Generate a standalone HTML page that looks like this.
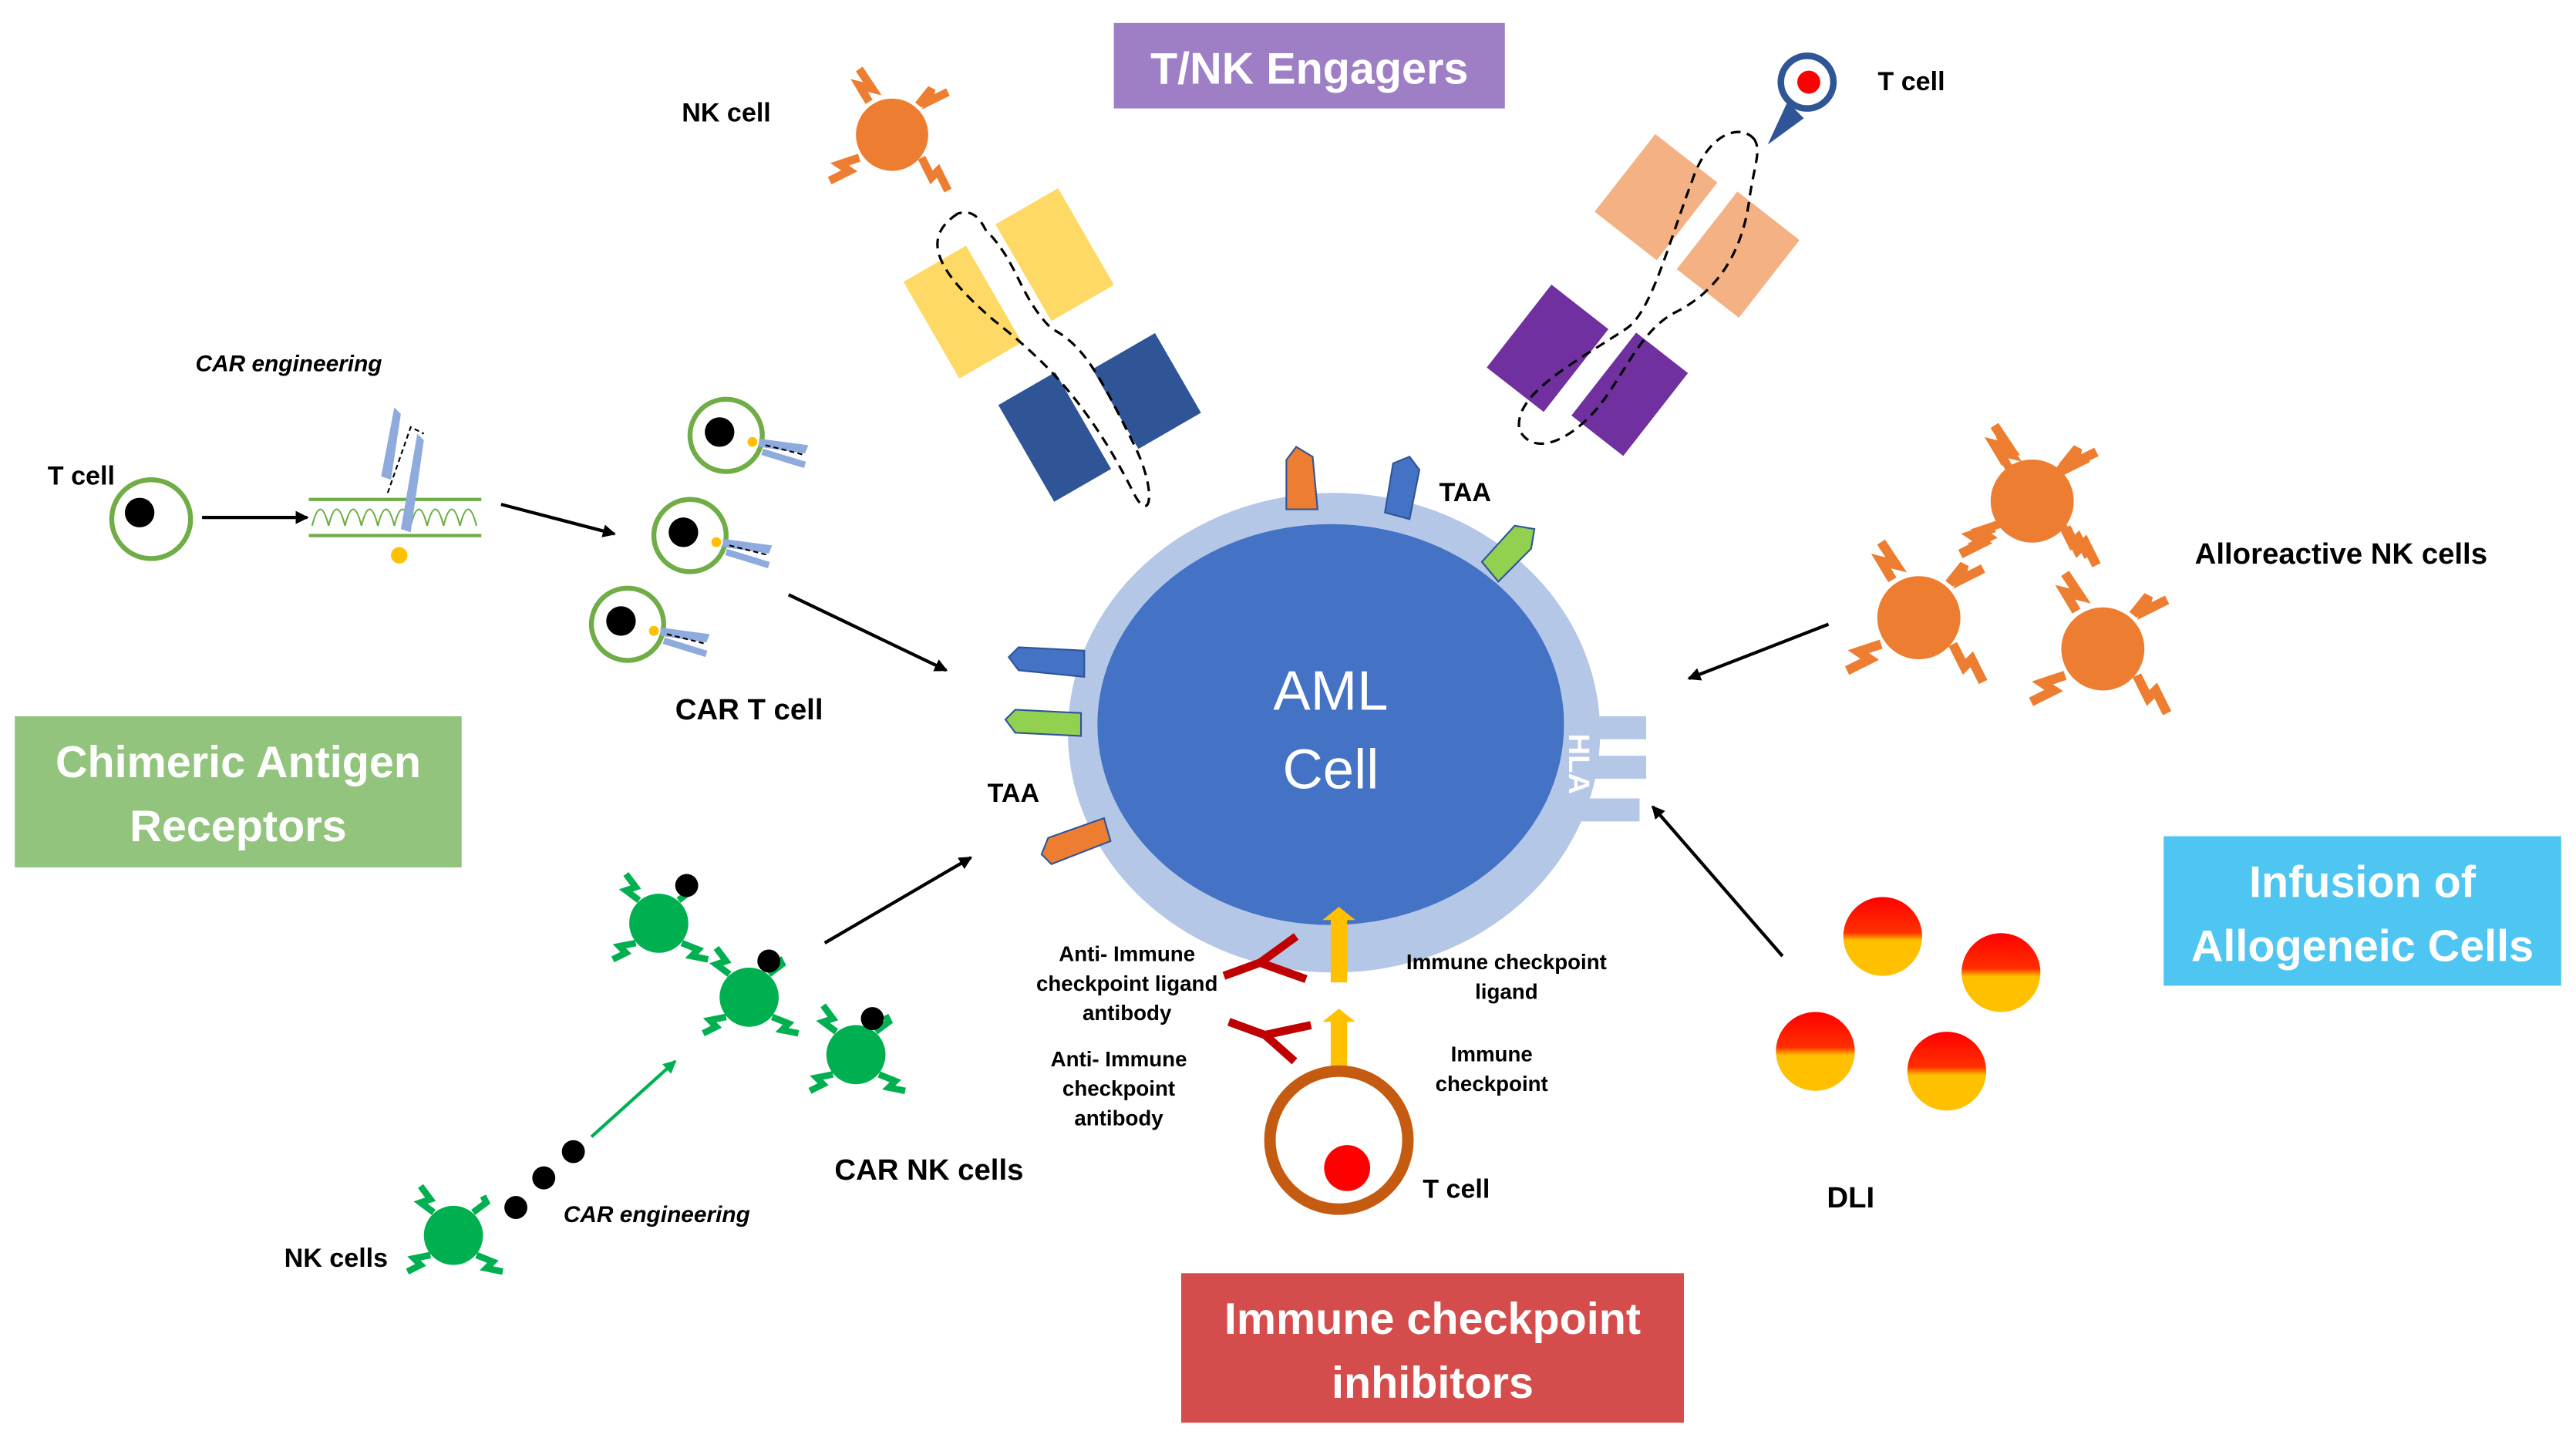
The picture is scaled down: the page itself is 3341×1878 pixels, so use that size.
<!DOCTYPE html>
<html><head><meta charset="utf-8"><style>
html,body{margin:0;padding:0;background:#fff;}
svg{display:block;}
text{font-family:"Liberation Sans",Arial,sans-serif;}
</style></head><body>
<svg width="3341" height="1878" viewBox="0 0 1568 881.4" preserveAspectRatio="none" xmlns="http://www.w3.org/2000/svg">
<defs>
<marker id="ah" markerWidth="8" markerHeight="8" refX="7" refY="4" orient="auto" markerUnits="userSpaceOnUse"><path d="M0,0 L8,4 L0,8 z" fill="#000"/></marker>
<marker id="ahg" markerWidth="8" markerHeight="8" refX="7" refY="4" orient="auto" markerUnits="userSpaceOnUse"><path d="M0,0 L8,4 L0,8 z" fill="#00b050"/></marker>
<linearGradient id="dli" x1="0" y1="0" x2="0" y2="1"><stop offset="0" stop-color="#ff0000"/><stop offset="0.45" stop-color="#ff3000"/><stop offset="0.55" stop-color="#ffc000"/><stop offset="1" stop-color="#ffc000"/></linearGradient>
<g id="onk"><circle r="22" fill="#ed7d31"/>
<path d="M-14,-20 l-6,-10 l8,2 l-8,-12" stroke="#ed7d31" stroke-width="5" fill="none"/>
<path d="M16,-18 l8,-10 l-2,8 l12,-6" stroke="#ed7d31" stroke-width="5" fill="none"/>
<path d="M-20,14 l-12,4 l6,4 l-12,6" stroke="#ed7d31" stroke-width="5" fill="none"/>
<path d="M18,14 l6,12 l4,-4 l6,12" stroke="#ed7d31" stroke-width="5" fill="none"/></g>
<g id="gnk"><circle r="18" fill="#00b050"/>
<path d="M-12,-14 l-8,-6 l6,-2 l-6,-8" stroke="#00b050" stroke-width="4" fill="none"/>
<path d="M12,-14 l8,-6 l-2,-4" stroke="#00b050" stroke-width="4" fill="none"/>
<path d="M-14,12 l-10,2 l4,4 l-8,4" stroke="#00b050" stroke-width="4" fill="none"/>
<path d="M14,12 l10,4 l-4,4 l10,2" stroke="#00b050" stroke-width="4" fill="none"/></g>
<g id="cart"><circle r="22" fill="#fff" stroke="#70ad47" stroke-width="3"/><circle cx="-4" cy="-2" r="9" fill="#000"/><circle cx="16" cy="4" r="3" fill="#ffc000"/>
<path d="M20,2 l30,4 l-2,5 l-28,-4z" fill="#8faadc"/><path d="M22,10 l26,8" stroke="#8faadc" stroke-width="4"/><path d="M24,6 l24,6" stroke="#000" stroke-dasharray="3,2" stroke-width="1"/></g>
</defs>

<!-- Title boxes -->
<rect x="678" y="14" width="238" height="52" fill="#9e7fc6"/>
<text x="797" y="51" font-size="27" font-weight="bold" fill="#fff" text-anchor="middle">T/NK Engagers</text>
<rect x="9" y="436" width="272" height="92" fill="#93c47d"/>
<text x="145" y="473" font-size="27" font-weight="bold" fill="#fff" text-anchor="middle">Chimeric Antigen</text>
<text x="145" y="512" font-size="27" font-weight="bold" fill="#fff" text-anchor="middle">Receptors</text>
<rect x="1317" y="509" width="242" height="91" fill="#4fc6f2"/>
<text x="1438" y="546" font-size="27" font-weight="bold" fill="#fff" text-anchor="middle">Infusion of</text>
<text x="1438" y="585" font-size="27" font-weight="bold" fill="#fff" text-anchor="middle">Allogeneic Cells</text>
<rect x="719" y="775" width="306" height="91" fill="#d44c4c"/>
<text x="872" y="812" font-size="27" font-weight="bold" fill="#fff" text-anchor="middle">Immune checkpoint</text>
<text x="872" y="851" font-size="27" font-weight="bold" fill="#fff" text-anchor="middle">inhibitors</text>

<!-- AML cell -->
<ellipse cx="812" cy="446" rx="162" ry="146" fill="#b4c7e7"/>
<ellipse cx="810" cy="441" rx="142" ry="122" fill="#4472c4"/>
<text x="810" y="432" font-size="34" fill="#fff" text-anchor="middle">AML</text>
<text x="810" y="480" font-size="34" fill="#fff" text-anchor="middle">Cell</text>
<!-- HLA -->
<rect x="958" y="436" width="44" height="14" fill="#b4c7e7"/>
<rect x="958" y="460" width="44" height="14" fill="#b4c7e7"/>
<rect x="958" y="486" width="40" height="14" fill="#b4c7e7"/>
<text transform="translate(955,465) rotate(90)" font-size="18" font-weight="bold" fill="#fff" text-anchor="middle">HLA</text>
<!-- TAAs -->
<path d="M783,310 l0,-30 l6,-8 l10,6 l3,32z" fill="#ed7d31" stroke="#2f5597" stroke-width="1"/>
<path d="M843,312 l5,-30 l10,-4 l6,8 l-6,30z" fill="#4472c4" stroke="#2f5597" stroke-width="1"/>
<path d="M902,342 l20,-22 l12,2 l-2,12 l-20,20z" fill="#92d050" stroke="#2f5597" stroke-width="1"/>
<path d="M660,396 l-40,-2 l-6,6 l6,8 l40,4z" fill="#4472c4" stroke="#2f5597" stroke-width="1"/>
<path d="M658,434 l-40,-2 l-6,6 l6,8 l40,2z" fill="#92d050" stroke="#2f5597" stroke-width="1"/>
<path d="M676,512 l-36,14 l-6,-6 l4,-10 l34,-12z" fill="#ed7d31" stroke="#2f5597" stroke-width="1"/>
<text x="876" y="305" font-size="16" font-weight="bold">TAA</text>
<text x="601" y="488" font-size="16" font-weight="bold">TAA</text>

<!-- T/NK engager left -->
<use href="#onk" x="543" y="82"/>
<text x="415" y="74" font-size="16" font-weight="bold">NK cell</text>
<g transform="translate(586,190) rotate(-30)"><rect x="-22" y="-34" width="44" height="68" fill="#ffd966"/></g>
<g transform="translate(642,155) rotate(-30)"><rect x="-22" y="-34" width="44" height="68" fill="#ffd966"/></g>
<g transform="translate(642,266) rotate(-30)"><rect x="-20" y="-34" width="40" height="68" fill="#2f5597"/></g>
<g transform="translate(698,238) rotate(-30)"><rect x="-22" y="-28" width="44" height="56" fill="#2f5597"/></g>
<path d="M583,130 C560,145 570,165 605,195 C630,215 660,240 690,300 C700,320 705,300 690,270 C670,230 660,210 640,200 C620,180 620,160 600,140 C595,130 590,128 583,130z" fill="none" stroke="#000" stroke-dasharray="6,4" stroke-width="1.5"/>
<!-- T/NK engager right -->
<g transform="translate(1100,50)"><circle r="16" fill="#fff" stroke="#2f5597" stroke-width="4"/><circle cx="1" cy="0" r="7" fill="#ff0000"/></g>
<path d="M1088,62 L1076,88 L1098,72z" fill="#2f5597"/>
<text x="1143" y="55" font-size="16" font-weight="bold">T cell</text>
<g transform="translate(1008,120) rotate(38)"><rect x="-24" y="-30" width="48" height="60" fill="#f4b183"/></g>
<g transform="translate(1058,155) rotate(38)"><rect x="-24" y="-30" width="48" height="60" fill="#f4b183"/></g>
<g transform="translate(942,212) rotate(38)"><rect x="-22" y="-32" width="44" height="64" fill="#7030a0"/></g>
<g transform="translate(992,240) rotate(38)"><rect x="-20" y="-32" width="40" height="64" fill="#7030a0"/></g>
<path d="M1068,85 C1060,75 1040,80 1030,110 C1015,150 1005,190 990,200 C960,220 920,240 925,262 C935,280 960,265 975,245 C990,225 1000,200 1020,190 C1040,180 1060,160 1065,120 C1068,100 1072,92 1068,85z" fill="none" stroke="#000" stroke-dasharray="6,4" stroke-width="1.5"/>

<!-- CAR T -->
<text x="119" y="226" font-size="14" font-weight="bold" font-style="italic">CAR engineering</text>
<text x="29" y="295" font-size="16" font-weight="bold">T cell</text>
<circle cx="92" cy="316" r="24" fill="#fff" stroke="#70ad47" stroke-width="3"/><circle cx="85" cy="312" r="9" fill="#000"/>
<line x1="123" y1="315" x2="187" y2="315" stroke="#000" stroke-width="2" marker-end="url(#ah)"/>
<line x1="188" y1="304" x2="293" y2="304" stroke="#70ad47" stroke-width="2"/>
<line x1="188" y1="326" x2="293" y2="326" stroke="#70ad47" stroke-width="2"/>
<path d="M190,320 q5,-20 10,0 q5,-20 10,0 q5,-20 10,0 q5,-20 10,0 q5,-20 10,0 q5,-20 10,0 q5,-20 10,0 q5,-20 10,0 q5,-20 10,0 q5,-20 10,0" fill="none" stroke="#70ad47" stroke-width="1"/>
<path d="M232,290 l8,-42 l4,4 l-6,40z" fill="#8faadc"/><path d="M244,322 l10,-58 l4,4 l-8,56z" fill="#8faadc"/>
<path d="M236,300 l14,-40 l8,4" fill="none" stroke="#000" stroke-dasharray="3,2"/>
<circle cx="243" cy="338" r="5" fill="#ffc000"/>
<line x1="305" y1="307" x2="374" y2="325" stroke="#000" stroke-width="2" marker-end="url(#ah)"/>
<use href="#cart" x="442" y="265"/>
<use href="#cart" x="420" y="326"/>
<use href="#cart" x="382" y="380"/>
<text x="411" y="438" font-size="18" font-weight="bold">CAR T cell</text>
<line x1="480" y1="362" x2="576" y2="408" stroke="#000" stroke-width="2" marker-end="url(#ah)"/>

<!-- CAR NK -->
<use href="#gnk" x="401" y="562"/><circle cx="418" cy="539" r="7" fill="#000"/>
<use href="#gnk" x="456" y="607"/><circle cx="468" cy="585" r="7" fill="#000"/>
<use href="#gnk" x="521" y="642"/><circle cx="531" cy="620" r="7" fill="#000"/>
<use href="#gnk" x="276" y="752"/>
<circle cx="314" cy="735" r="7" fill="#000"/><circle cx="331" cy="717" r="7" fill="#000"/><circle cx="349" cy="701" r="7" fill="#000"/>
<line x1="360" y1="692" x2="411" y2="646" stroke="#00b050" stroke-width="2" marker-end="url(#ahg)"/>
<text x="508" y="718" font-size="18" font-weight="bold">CAR NK cells</text>
<text x="343" y="744" font-size="14" font-weight="bold" font-style="italic">CAR engineering</text>
<text x="173" y="771" font-size="16" font-weight="bold">NK cells</text>
<line x1="502" y1="574" x2="591" y2="522" stroke="#000" stroke-width="2" marker-end="url(#ah)"/>

<!-- Checkpoint -->
<path d="M810,598 l0,-38 l-5,0 l10,-8 l10,8 l-5,0 l0,38z" fill="#ffc000"/>
<path d="M810,652 l0,-30 l-5,0 l10,-8 l10,8 l-5,0 l0,30z" fill="#ffc000"/>
<circle cx="815" cy="694" r="42" fill="#fff" stroke="#c55a11" stroke-width="7"/>
<circle cx="820" cy="711" r="14" fill="#ff0000"/>
<g fill="none" stroke="#c00000" stroke-width="5"><path d="M745,594 l22,-8 l28,10 M767,586 l22,-16"/><path d="M748,622 l22,8 l28,-6 M770,630 l18,16"/></g>
<g font-size="13" font-weight="bold" text-anchor="middle">
<text x="686" y="585">Anti- Immune</text><text x="686" y="603">checkpoint ligand</text><text x="686" y="621">antibody</text>
<text x="681" y="649">Anti- Immune</text><text x="681" y="667">checkpoint</text><text x="681" y="685">antibody</text>
<text x="917" y="590">Immune checkpoint</text><text x="917" y="608">ligand</text>
<text x="908" y="646">Immune</text><text x="908" y="664">checkpoint</text>
</g>
<text x="866" y="729" font-size="16" font-weight="bold">T cell</text>

<!-- Alloreactive NK -->
<use href="#onk" x="1237" y="305" transform="translate(0,0)"/>
<g transform="translate(1237,305) scale(1.15)"><use href="#onk"/></g>
<g transform="translate(1168,376) scale(1.15)"><use href="#onk"/></g>
<g transform="translate(1280,395) scale(1.15)"><use href="#onk"/></g>
<text x="1336" y="343" font-size="18" font-weight="bold">Alloreactive NK cells</text>
<line x1="1113" y1="380" x2="1028" y2="413" stroke="#000" stroke-width="2" marker-end="url(#ah)"/>

<!-- DLI -->
<circle cx="1146" cy="570" r="24" fill="url(#dli)"/>
<circle cx="1218" cy="592" r="24" fill="url(#dli)"/>
<circle cx="1105" cy="640" r="24" fill="url(#dli)"/>
<circle cx="1185" cy="652" r="24" fill="url(#dli)"/>
<text x="1112" y="735" font-size="18" font-weight="bold">DLI</text>
<line x1="1085" y1="582" x2="1006" y2="491" stroke="#000" stroke-width="2" marker-end="url(#ah)"/>
</svg>
</body></html>
